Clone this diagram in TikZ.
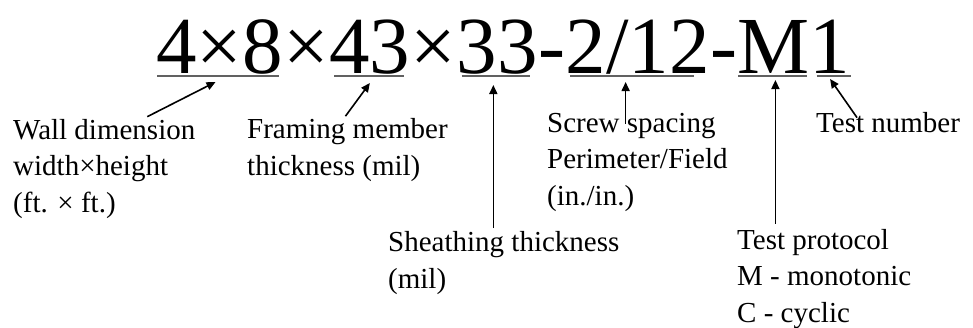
\documentclass[tikz,border=0pt]{standalone}
\usepackage{fontspec}
\setmainfont{Liberation Serif}
\usetikzlibrary{arrows.meta,positioning}

\begin{document}
\begin{tikzpicture}[x=1pt,y=-1pt,every node/.style={inner sep=0pt},
  big/.style={font=\fontsize{81}{90}\selectfont},
  lbl/.style={font=\fontsize{29}{36.5}\selectfont,align=left,anchor=base west},
  uline/.style={draw=black!62,line width=2pt},
  pointer/.style={-{Triangle[length=9pt,width=8pt]},line width=1.6pt}]
\useasboundingbox (0,0) rectangle (973,327);
% designation string
\node (s1) [big,anchor=base west] at (156,73) {4×8};
\node (x1) [big,base right=0pt of s1] {×};
\node (s2) [big,base right=0pt of x1] {43};
\node (x2) [big,base right=0pt of s2] {×};
\node (s3) [big,base right=0pt of x2] {33};
\node (d1) [big,base right=0pt of s3] {-};
\node (s4) [big,base right=0pt of d1] {2/12};
\node (d2) [big,base right=0pt of s4] {-};
\node (s5) [big,base right=0pt of d2] {M};
\node (s6) [big,base right=0pt of s5] {1};
% underlines
\draw[uline] ([xshift=1pt,yshift=-3pt]s1.base west) -- ([xshift=-4pt,yshift=-3pt]s1.base east);
\draw[uline] ([xshift=5pt,yshift=-3pt]s2.base west) -- ([xshift=-7pt,yshift=-3pt]s2.base east);
\draw[uline] ([xshift=5pt,yshift=-3pt]s3.base west) -- ([xshift=-8pt,yshift=-3pt]s3.base east);
\draw[uline] ([xshift=5pt,yshift=-3pt]s4.base west) -- ([xshift=-16pt,yshift=-3pt]s4.base east);
\draw[uline] ([xshift=1pt,yshift=-3pt]s5.base west) -- ([xshift=-3pt,yshift=-3pt]s5.base east);
\draw[uline] ([xshift=7pt,yshift=-3pt]s6.base west) -- ([yshift=-3pt]s6.base east);
% labels (base = last line)
\node (wall) [lbl] at (13,212) {Wall dimension\\width×height\\(ft. × ft.)};
\node (frame) [lbl] at (247,175) {Framing member\\thickness (mil)};
\node (sheath) [lbl] at (388,288) {Sheathing thickness\\(mil)};
\node (screw) [lbl] at (547,205) {Screw spacing\\Perimeter/Field\\(in./in.)};
\node (proto) [lbl] at (737,322) {Test protocol\\M - monotonic\\C - cyclic};
\node (testno) [lbl] at (816,132) {Test number};
% pointer tips
\coordinate (t3) at ([xshift=-4pt,yshift=-12pt]s3.base);
\coordinate (t4) at ([xshift=-12pt,yshift=-9pt]s4.base);
\coordinate (t5) at ([xshift=2pt,yshift=-7pt]s5.base);
% pointers
\draw[pointer] ([xshift=43pt,yshift=2pt]wall.north) -- ([xshift=-4pt,yshift=-9pt]s1.base);
\draw[pointer] ([xshift=-2pt,yshift=2pt]frame.north) -- ([yshift=-10pt]s2.base);
\draw[pointer] ([yshift=3pt]sheath.north -| t3) -- (t3);
\draw[pointer] ([yshift=-11pt]screw.north -| t4) -- (t4);
\draw[pointer] ([yshift=5pt]proto.north -| t5) -- (t5);
\draw[pointer] ([xshift=-31pt,yshift=-6pt]testno.north) -- ([yshift=-6pt]s6.base);
\end{tikzpicture}
\end{document}
